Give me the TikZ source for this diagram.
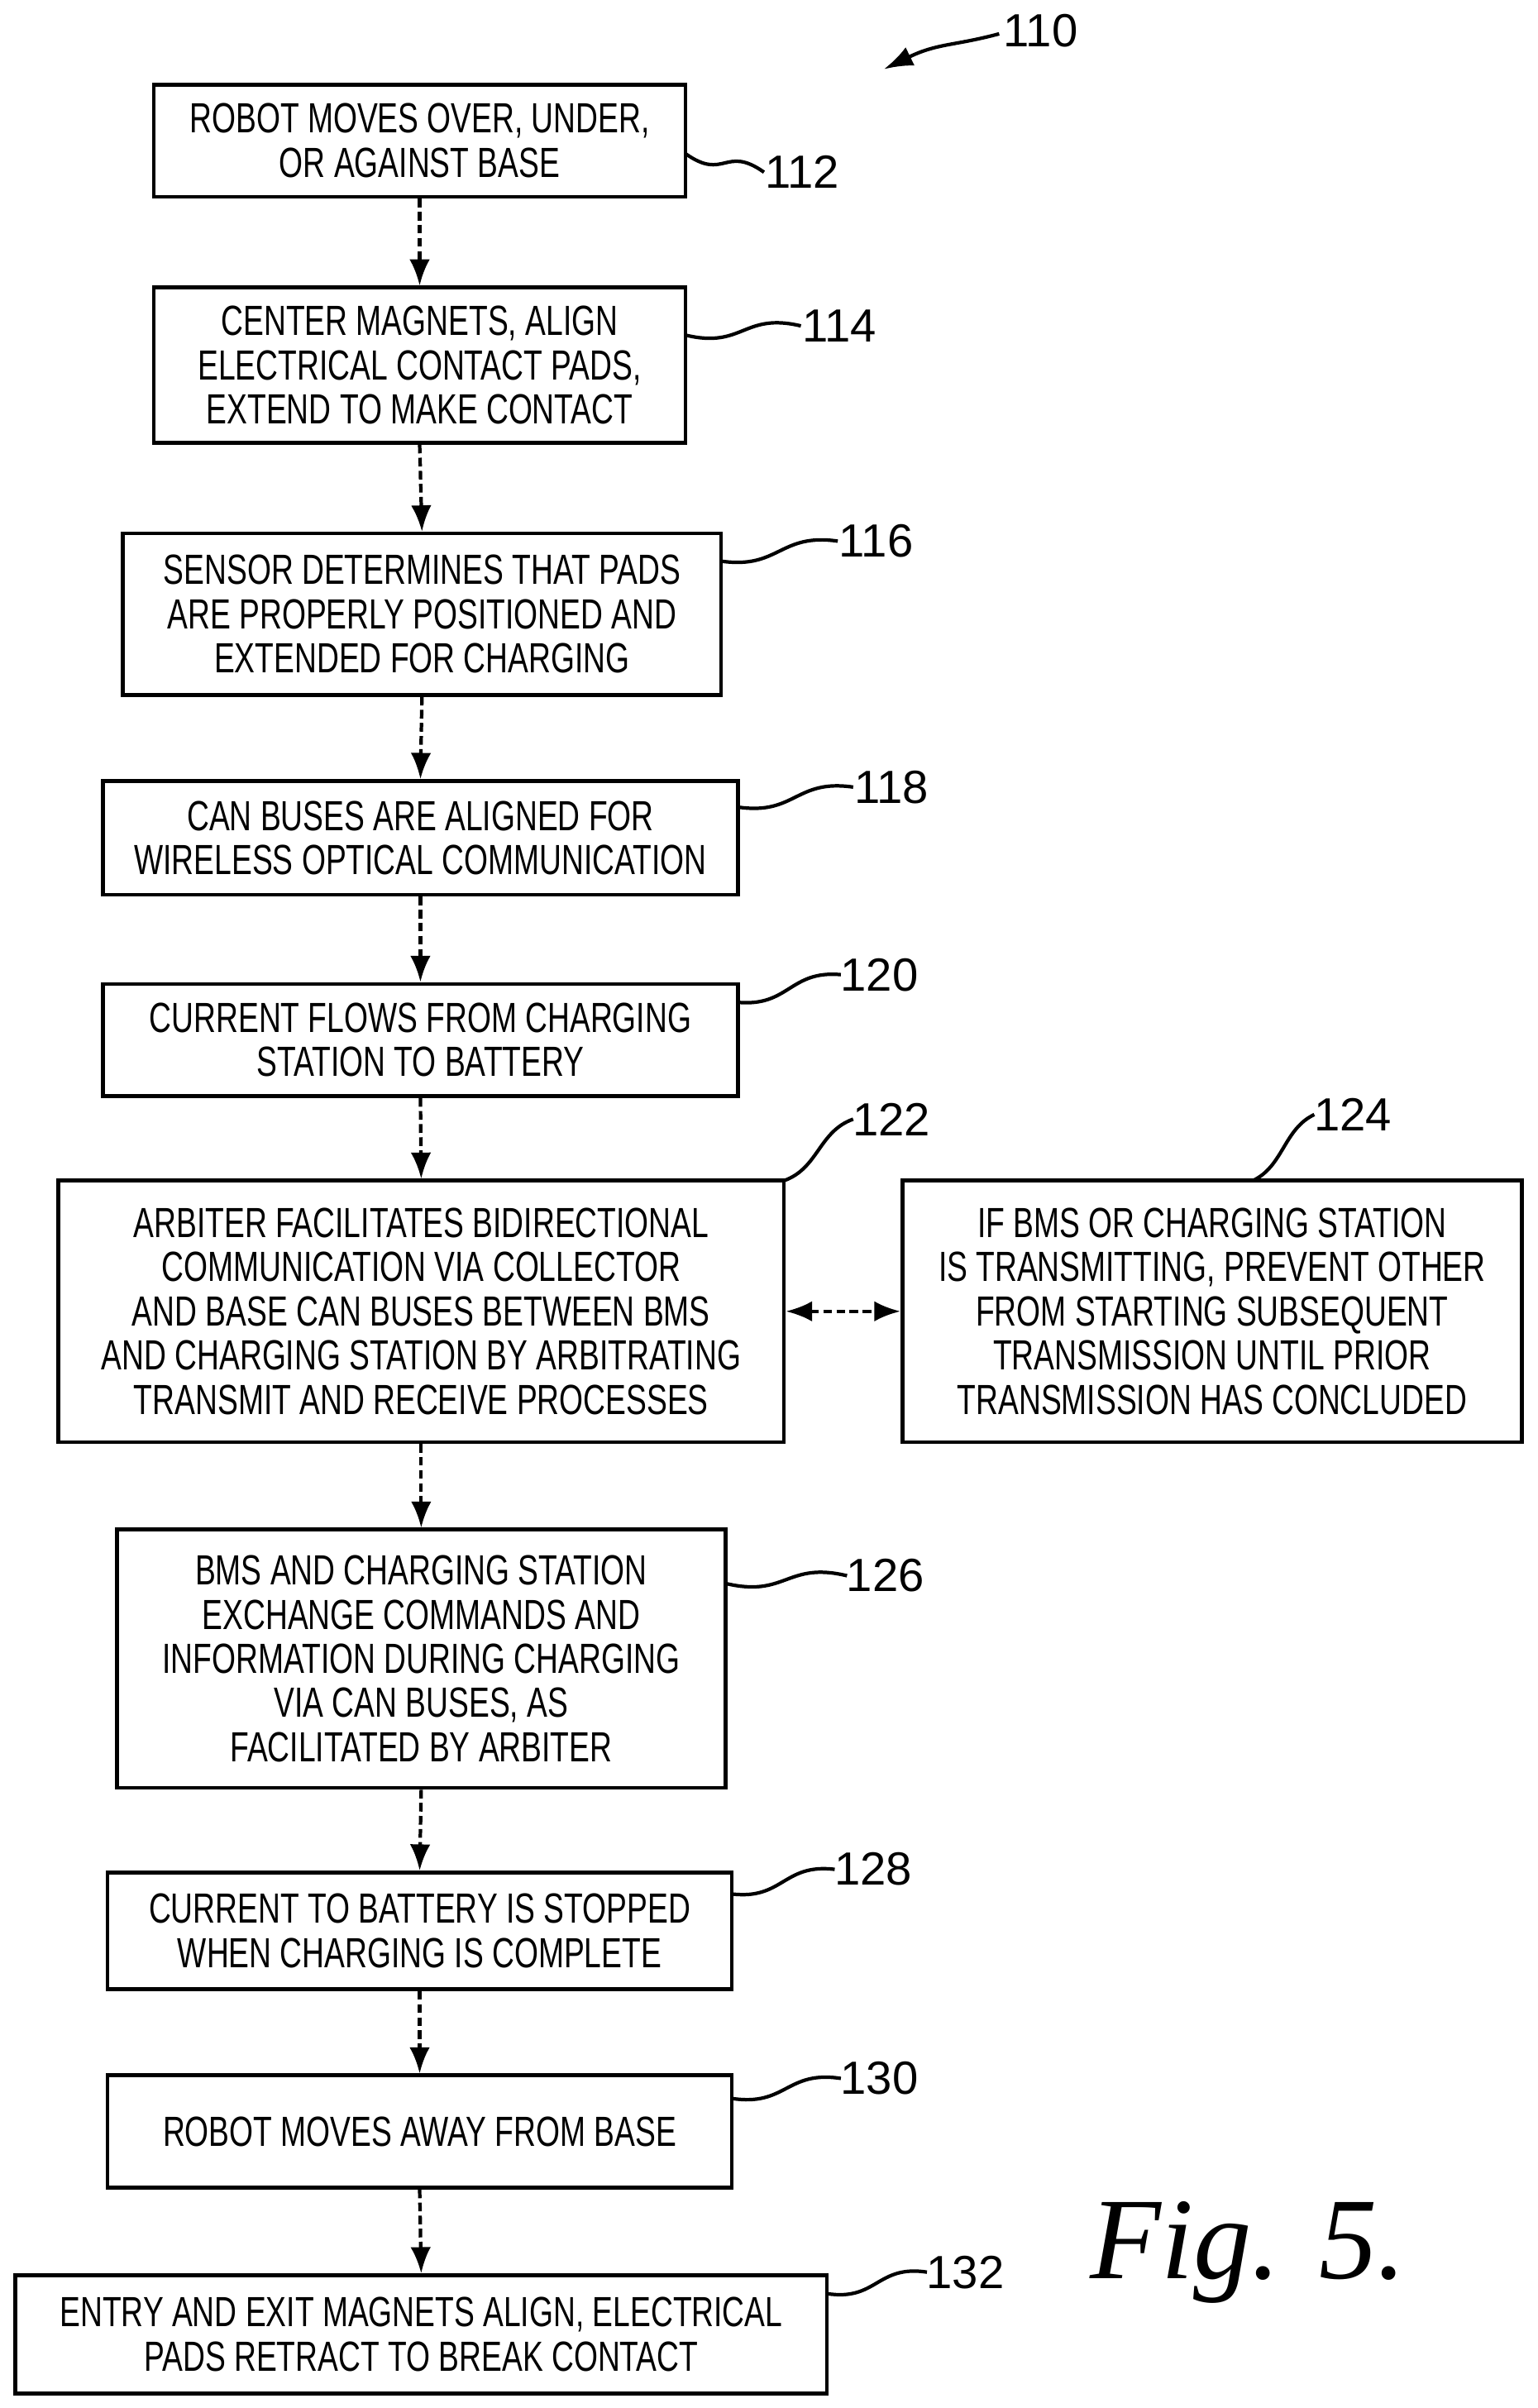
\documentclass[tikz,border=0pt]{standalone}
\usepackage{fontspec}
\setmainfont{Liberation Sans}
\newfontfamily\cond[FakeStretch=0.73]{Liberation Sans}
\newfontfamily\serifit{Liberation Serif}
\usetikzlibrary{arrows.meta,calc}
\newcommand\bx[6]{\node[box,minimum width=#4*0.01859cm,minimum height=#5*0.01859cm] (#1) at (#2,#3) {#6};}
\newcommand\ld[5]{\node[lab] (l#1) at (#4,#5) {#1}; \draw[lead] (#2,#3) .. controls ($(#2,#3)!0.5!(#4-25,#5)+(0,12)$) and ($(#2,#3)!0.5!(#4-25,#5)+(0,-12)$) .. (#4-25,#5);}
\begin{document}
\begin{tikzpicture}[x=0.01859cm,y=-0.01859cm,
 box/.style={draw,line width=1.3pt,align=center,font=\cond\fontsize{14.5}{15.2}\selectfont,inner sep=0pt},
 lab/.style={font=\fontsize{16}{18}\selectfont,anchor=center},
 lead/.style={line width=1.2pt},
 arr/.style={line width=1.2pt,dash pattern=on 3pt off 1.5pt,-{Latex[length=9pt,width=7pt]}}]
\useasboundingbox (0,0) rectangle (1000,1566.4);
\bx{b112}{273}{91.5}{346}{73}{ROBOT MOVES OVER, UNDER,\\OR AGAINST BASE}
\bx{b114}{273}{237.5}{346}{101}{CENTER MAGNETS, ALIGN\\ELECTRICAL CONTACT PADS,\\EXTEND TO MAKE CONTACT}
\bx{b116}{274.5}{399.5}{389}{105}{SENSOR DETERMINES THAT PADS\\ARE PROPERLY POSITIONED AND\\EXTENDED FOR CHARGING}
\bx{b118}{273.5}{545}{413}{74}{CAN BUSES ARE ALIGNED FOR\\WIRELESS OPTICAL COMMUNICATION}
\bx{b120}{273.5}{676.5}{413}{73}{CURRENT FLOWS FROM CHARGING\\STATION TO BATTERY}
\bx{b122}{274}{853}{472}{170}{ARBITER FACILITATES BIDIRECTIONAL\\COMMUNICATION VIA COLLECTOR\\AND BASE CAN BUSES BETWEEN BMS\\AND CHARGING STATION BY ARBITRATING\\TRANSMIT AND RECEIVE PROCESSES}
\bx{b124}{788.5}{853}{403}{170}{IF BMS OR CHARGING STATION\\IS TRANSMITTING, PREVENT OTHER\\FROM STARTING SUBSEQUENT\\TRANSMISSION UNTIL PRIOR\\TRANSMISSION HAS CONCLUDED}
\bx{b126}{274}{1079}{396}{168}{BMS AND CHARGING STATION\\EXCHANGE COMMANDS AND\\INFORMATION DURING CHARGING\\VIA CAN BUSES, AS\\FACILITATED BY ARBITER}
\bx{b128}{273}{1256}{406}{76}{CURRENT TO BATTERY IS STOPPED\\WHEN CHARGING IS COMPLETE}
\bx{b130}{273}{1386.5}{406}{73}{ROBOT MOVES AWAY FROM BASE}
\bx{b132}{274}{1518.5}{528}{77}{ENTRY AND EXIT MAGNETS ALIGN, ELECTRICAL\\PADS RETRACT TO BREAK CONTACT}
\foreach \a/\b in {b112/b114,b114/b116,b116/b118,b118/b120,b120/b122,b122/b126,b126/b128,b128/b130,b130/b132}
  \draw[arr] (\a.south) -- (\b.north);
\draw[arr,{Latex[length=9pt,width=7pt]}-{Latex[length=9pt,width=7pt]}] (b122.east) -- (b124.west);
\ld{112}{446}{100}{522}{112}
\ld{114}{446}{218}{546}{212}
\ld{116}{469}{365}{570}{352}
\ld{118}{480}{525}{580}{512}
\ld{120}{480}{652}{572}{634}
\ld{122}{510}{768}{580}{728}
\ld{124}{815}{768}{880}{725}
\ld{126}{472}{1030}{576}{1025}
\ld{128}{476}{1232}{568}{1216}
\ld{130}{476}{1365}{572}{1352}
\ld{132}{538}{1492}{628}{1478}
\node[lab] (l110) at (677,20) {110};
\coordinate (t110) at (575,45);
\draw[line width=1.2pt,-{Latex[length=10pt,width=7pt]}] (650,22) .. controls (620,30) and (610,28) .. (t110);
\node[font=\serifit\itshape\fontsize{40}{44}\selectfont] (fig) at (812,1465) {Fig. 5.};
\end{tikzpicture}
\end{document}
